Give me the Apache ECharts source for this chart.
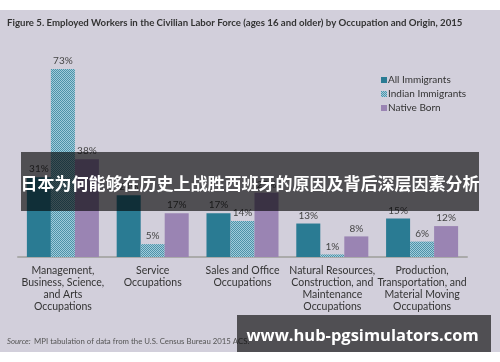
<!DOCTYPE html>
<html><head><meta charset="utf-8">
<script src="https://cdn.jsdelivr.net/npm/echarts@6/dist/echarts.min.js"></script>
<style>html,body{margin:0;padding:0;background:#fff}#c{width:500px;height:362px}</style>
</head><body><div id="c"></div>
<script>
const categories = [
  "Management,\nBusiness, Science,\nand Arts\nOccupations",
  "Service\nOccupations",
  "Sales and Office\nOccupations",
  "Natural Resources,\nConstruction, and\nMaintenance\nOccupations",
  "Production,\nTransportation, and\nMaterial Moving\nOccupations"
];
const seriesNames = ["All Immigrants", "Indian Immigrants", "Native Born"];
const allImmigrants = [31, 24, 17, 13, 15];
const indianImmigrants = [73, 5, 14, 1, 6];
const nativeBorn = [38, 17, 25, 8, 12];

const pc = document.createElement('canvas');
pc.width = 2; pc.height = 2;
const g = pc.getContext('2d');
const id = g.createImageData(2, 2);
const dark = [78, 146, 168], light = [160, 204, 219];
[[0,0,dark],[1,0,light],[0,1,light],[1,1,dark]].forEach(([x,y,c])=>{
  const i = (y*2+x)*4; id.data[i]=c[0]; id.data[i+1]=c[1]; id.data[i+2]=c[2]; id.data[i+3]=255;
});
g.putImageData(id, 0, 0);

const chart = echarts.init(document.getElementById('c'), null, {renderer:'canvas'});
const lbl = {show:true, position:'top', distance:3, formatter:'{c}%', color:'#444', fontSize:10, fontFamily:'Lato'};
function mk(name, data, color){
  return {name, type:'bar', data, barGap:'0%', barCategoryGap:'19.8%', itemStyle:{color}, label:lbl, z:2};
}
chart.setOption({
  backgroundColor:'#fff',
  animation:false,
  grid:{left:18, right:33, top:51, bottom:105},
  xAxis:{type:'category', data:categories,
    axisLine:{lineStyle:{color:'#aaa', width:2}}, axisTick:{show:false},
    axisLabel:{color:'#333', fontSize:10.5, fontFamily:'Lato', lineHeight:11.8, margin:8, interval:0}},
  yAxis:{type:'value', min:0, max:80, show:false, splitLine:{show:false}},
  legend:{orient:'vertical', left:376, top:70, itemWidth:6, itemHeight:6, itemGap:4,
    icon:'rect', textStyle:{color:'#333', fontSize:10, fontFamily:'Lato', padding:[0,0,0,-4]},
    data:seriesNames},
  series:[
    mk(seriesNames[0], allImmigrants, '#2a7b93'),
    mk(seriesNames[1], indianImmigrants, {image:pc, repeat:'repeat'}),
    mk(seriesNames[2], nativeBorn, '#9a84b3')
  ],
  graphic:[
    {type:'rect', z:-10, silent:true, shape:{x:0,y:10,width:500,height:342}, style:{fill:'#d2cfdb'}},
    {type:'text', z:5, left:7, top:18, style:{text:'Figure 5. Employed Workers in the Civilian Labor Force (ages 16 and older) by Occupation and Origin, 2015', fill:'#333', font:'bold 9.65px Lato'}},
    {type:'text', z:5, left:7, top:335, style:{rich:{i:{fontStyle:'italic', fontSize:7.8, fontFamily:'Lato', fill:'#555'}, n:{fontSize:7.8, fontFamily:'Lato', fill:'#555'}}, text:'{i|Source:} {n|MPI tabulation of data from the U.S. Census Bureau 2015 ACS.}'}},
    {type:'rect', z:100, silent:true, shape:{x:21,y:152,width:458,height:59}, style:{fill:'rgba(0,0,0,0.62)'}},
    {type:'text', z:101, x:250, y:184, style:{text:'日本为何能够在历史上战胜西班牙的原因及背后深层因素分析', fill:'#fff', font:'bold 17px "Noto Sans CJK SC"', align:'center', verticalAlign:'middle'}},
    {type:'rect', z:100, silent:true, shape:{x:237,y:315,width:254,height:37}, style:{fill:'rgba(0,0,0,0.62)'}},
    {type:'text', z:101, x:362.5, y:336, style:{text:'www.hub-pgsimulators.com', fill:'#fff', font:'bold 16.5px "Open Sans"', align:'center', verticalAlign:'middle'}}
  ]
});
</script></body></html>
